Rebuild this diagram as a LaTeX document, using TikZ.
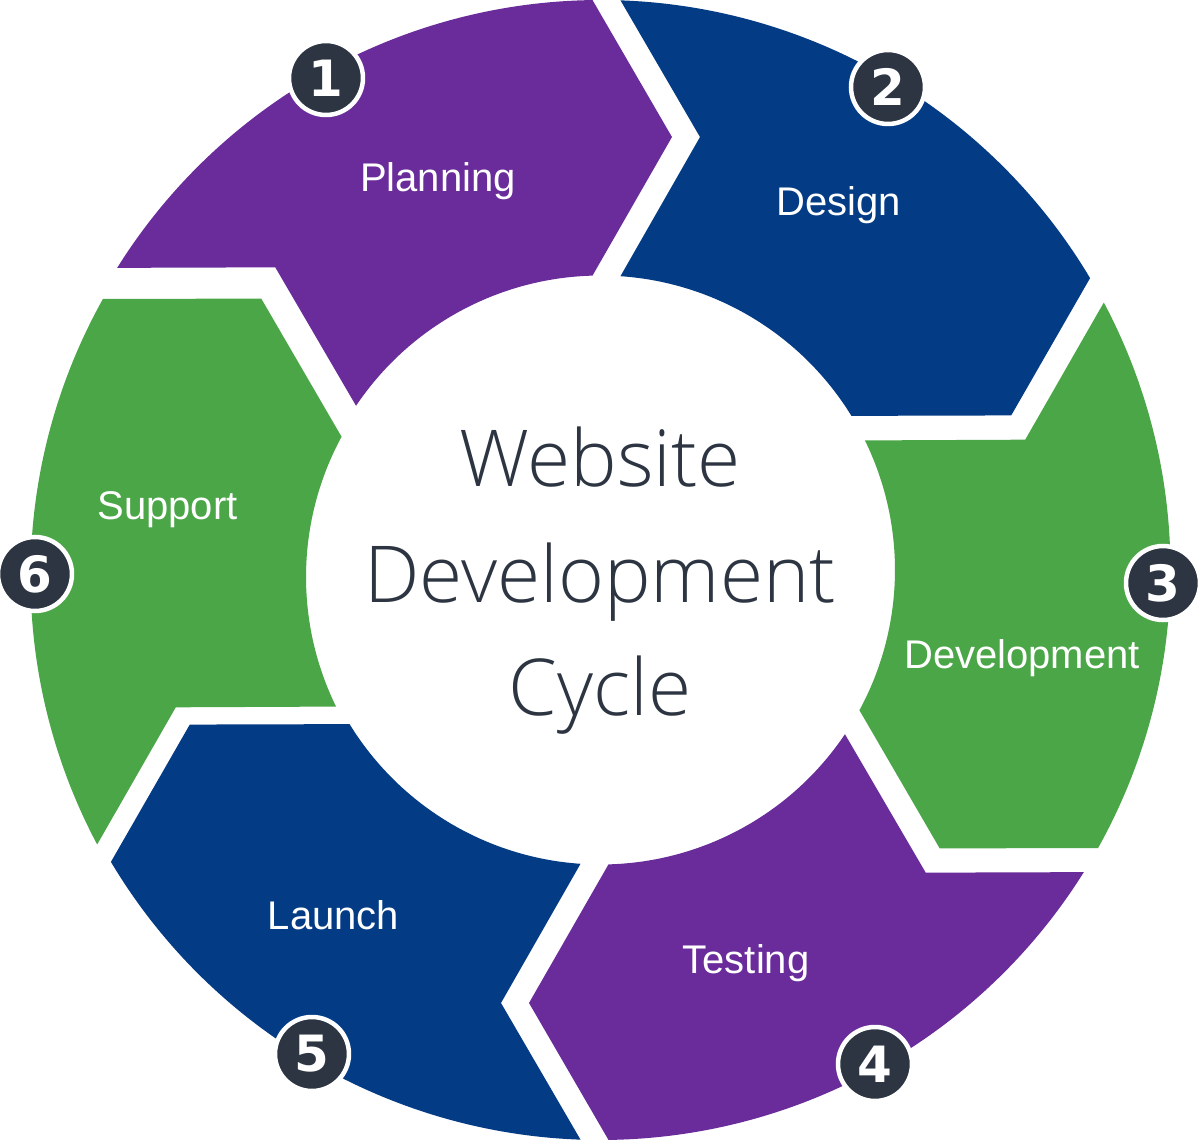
\documentclass[tikz,border=0pt]{standalone}
\usepackage{fontspec}
\newfontfamily\labelfont{Liberation Sans}
\IfFontExistsTF{Open Sans Light}{\newfontfamily\titlefont{Open Sans Light}}{\newfontfamily\titlefont{Open Sans}}
\newfontfamily\numfont{DejaVu Sans}
\definecolor{cpurple}{RGB}{106,44,154}
\definecolor{cblue}{RGB}{3,59,133}
\definecolor{cgreen}{RGB}{75,166,72}
\definecolor{cdark}{RGB}{44,53,65}
\tikzset{
  seglabel/.style={anchor=base, inner sep=0pt, text=white, font=\labelfont\fontsize{40}{48}\selectfont},
  titleline/.style={anchor=base, inner sep=0pt, text=cdark, font=\titlefont\fontsize{78.5}{90}\selectfont},
  badge/.style={circle, fill=cdark, draw=white, line width=4.5pt, minimum size=74pt, inner sep=0pt,
    text=white, font=\numfont\bfseries\fontsize{50}{56}\selectfont}
}
\begin{document}
\begin{tikzpicture}[x=1pt,y=1pt]
\useasboundingbox[fill=white] (-600.5,-571) rectangle (599.5,570);
% ring segments: \b = clockwise boundary angle, \a = \b+60, \dy = vertical shift
\foreach \b/\col/\dy in {90/cpurple/0, 30/cblue/0, -30/cgreen/0, -90/cpurple/0, -150/cblue/0, 150/cgreen/-7} {
  \pgfmathsetmacro\a{\b+60}
  \begin{scope}[yshift=\dy]
  \fill[\col] ({\a-2.011}:570) arc[start angle={\a-2.011}, end angle={\b+0.804}, radius=570]
    -- ({\b-9.376}:438.86) -- ({\b+1.557}:294.5)
    arc[start angle={\b+1.557}, end angle={\a-3.894}, radius=294.5]
    -- ({\a-12.942}:444.28) -- cycle;
  \end{scope}
}
% labels
\node[seglabel] (planning) at (-162.5,378) {Planning};
\node[seglabel] (design) at (238,354) {Design};
\node[seglabel] (development) at (421.5,-98) {Development};
\node[seglabel] (testing) at (145.5,-403) {Testing};
\node[seglabel] (launch) at (-267,-359) {Launch};
\node[seglabel] (support) at (-433,51) {Support};
% title
\node[titleline] (t1) at (-0.5,84) {Website};
\node[titleline] (t2) at (-0.5,-32) {Development};
\node[titleline] (t3) at (-0.5,-145) {Cycle};
% badges
\node[badge] (b1) at (-274.5,492) {1};
\node[badge] (b2) at (287.5,483) {2};
\node[badge] (b3) at (562.5,-13) {3};
\node[badge] (b4) at (274.5,-494) {4};
\node[badge] (b5) at (-288.5,-484) {5};
\node[badge] (b6) at (-565.5,-4) {6};
\end{tikzpicture}
\end{document}
